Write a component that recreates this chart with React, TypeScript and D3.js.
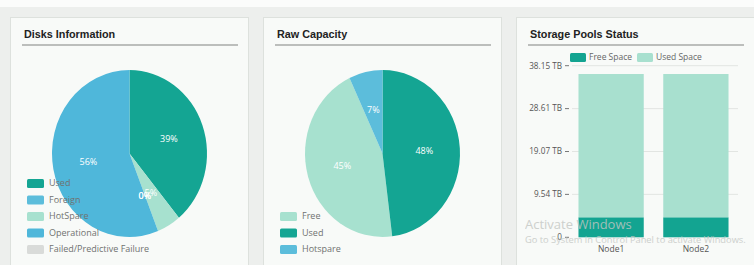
import React from "react";
import * as d3 from "d3";

// disks information
const diskLabels = ["Used", "Foreign", "HotSpare", "Operational", "Failed/Predictive Failure"];
const diskValues = [39, 0, 5, 56, 0];
const diskColors = ["#14a593", "#5cbddb", "#a7e1cf", "#4fb7da", "#d9dbd9"];
const diskPieOrder = ["Used", "HotSpare", "Foreign", "Failed/Predictive Failure", "Operational"];

// raw capacity
const rawLabels = ["Free", "Used", "Hotspare"];
const rawValues = [45, 48, 7];
const rawColors = ["#a7e1cf", "#14a593", "#5cbddb"];
const rawPieOrder = ["Used", "Free", "Hotspare"];

// storage pools
const nodes = ["Node1", "Node2"];
const freeSpace = [4.45, 4.45];
const usedSpace = [31.85, 31.85];
const tickValues = [0, 9.54, 19.07, 28.61, 38.15];
const tickLabels = ["0", "9.54 TB", "19.07 TB", "28.61 TB", "38.15 TB"];
const poolSeries = ["Free Space", "Used Space"];
const poolColors = ["#13a491", "#a8e0cf"];

const W = 754;
const H = 265;
const textFont = "'Open Sans', sans-serif";
const titleFont = "'Liberation Sans', Arial, sans-serif";

const Panel = ({ x, title }: { x: number; title: string }) => (
	<g>
		<rect x={x + 0.5} y={17.5} width={238} height={260} fill="#f8faf8" stroke="#dde1dd" />
		<text x={x + 14} y={38} fontFamily={titleFont} fontWeight="bold" fontSize={10.8} fill="#222">
			{title}
		</text>
		<line x1={x + 12} x2={x + 228} y1={45} y2={45} stroke="#a8aaa8" strokeWidth={1.5} />
	</g>
);

type Slice = { label: string; value: number; color: string };

const Pie = (props: {
	cx: number;
	cy: number;
	r: number;
	data: Slice[];
	order: string[];
}) => {
	const pie = d3
		.pie<Slice>()
		.value(d => d.value)
		.sort((a, b) => props.order.indexOf(a.label) - props.order.indexOf(b.label));
	const arcs = pie(props.data);
	const arc = d3.arc<d3.PieArcDatum<Slice>>().innerRadius(0).outerRadius(props.r);
	const labelArc = d3
		.arc<d3.PieArcDatum<Slice>>()
		.innerRadius(props.r * 0.54)
		.outerRadius(props.r * 0.54);
	return (
		<g transform={`translate(${props.cx},${props.cy}) scale(1,1.077)`}>
			{arcs.map((a, i) => (
				<path key={i} d={arc(a) || ""} fill={a.data.color} />
			))}
			{arcs.map((a, i) => {
				const [lx, ly] = labelArc.centroid(a);
				return (
					<text
						key={"l" + i}
						x={lx}
						y={ly}
						dy="0.35em"
						textAnchor="middle"
						fontFamily={textFont}
						fontSize={9}
						fill="#ffffff"
					>
						{Math.round(a.data.value) + "%"}
					</text>
				);
			})}
		</g>
	);
};

const Legend = ({ x, y, items }: { x: number; y: number; items: Slice[] }) => (
	<g>
		{items.map((d, i) => (
			<g key={i} transform={`translate(${x},${y + i * 16.5})`}>
				<rect x={0} y={-4} width={17} height={9} rx={1.5} fill={d.color} />
				<text x={22} y={0} dy="0.35em" fontFamily={textFont} fontSize={9} fill="#707270">
					{d.label}
				</text>
			</g>
		))}
	</g>
);

const App = () => {
	const disks: Slice[] = diskLabels.map((l, i) => ({ label: l, value: diskValues[i], color: diskColors[i] }));
	const raw: Slice[] = rawLabels.map((l, i) => ({ label: l, value: rawValues[i], color: rawColors[i] }));

	const xScale = d3.scaleBand().domain(nodes).range([570, 737]).paddingInner(0.23).paddingOuter(0.1);
	const yScale = d3.scaleLinear().domain([0, 38.15]).range([237.3, 65.7]);

	return (
		<svg width={W} height={H} style={{ position: "absolute", left: 0, top: 0 }}>
			<rect width={W} height={H} fill="#edefed" />
			<rect width={W} height={7} fill="#fbfcfb" />

			<Panel x={10} title="Disks Information" />
			<Panel x={263} title="Raw Capacity" />
			<Panel x={516} title="Storage Pools Status" />

			<Pie cx={129.5} cy={153.5} r={77.5} data={disks} order={diskPieOrder} />
			<Legend x={27} y={183} items={disks} />

			<Pie cx={382.5} cy={153.5} r={77.5} data={raw} order={rawPieOrder} />
			<Legend x={280} y={216} items={raw} />

			{/* storage pools */}
			<g>
				{tickValues.map((t, i) => (
					<g key={i}>
						{i > 0 && (
							<line x1={572} x2={738} y1={yScale(t)} y2={yScale(t)} stroke="#e2e5e2" />
						)}
						<line x1={565} x2={569} y1={yScale(t)} y2={yScale(t)} stroke="#777" />
						<text
							x={562}
							y={yScale(t)}
							dy="0.35em"
							textAnchor="end"
							fontFamily={textFont}
							fontSize={8.2}
							fill="#555"
						>
							{tickLabels[i]}
						</text>
					</g>
				))}
				{nodes.map((n, i) => (
					<g key={n}>
						<rect
							x={xScale(n)}
							y={yScale(freeSpace[i])}
							width={xScale.bandwidth()}
							height={yScale(0) - yScale(freeSpace[i])}
							fill={poolColors[0]}
						/>
						<rect
							x={xScale(n)}
							y={yScale(freeSpace[i] + usedSpace[i])}
							width={xScale.bandwidth()}
							height={yScale(freeSpace[i]) - yScale(freeSpace[i] + usedSpace[i])}
							fill={poolColors[1]}
						/>
						<text
							x={(xScale(n) || 0) + xScale.bandwidth() / 2}
							y={249}
							dy="0.35em"
							textAnchor="middle"
							fontFamily={textFont}
							fontSize={8.5}
							fill="#555"
						>
							{n}
						</text>
					</g>
				))}
				{poolSeries.map((s, i) => (
					<g key={s} transform={`translate(${570 + i * 67},57.5)`}>
						<rect x={0} y={-4.5} width={16} height={9} rx={1.5} fill={poolColors[i]} />
						<text x={19} y={0} dy="0.35em" fontFamily={textFont} fontSize={8.5} fill="#666">
							{s}
						</text>
					</g>
				))}
			</g>

			{/* watermark from the screenshot */}
			<g fontFamily={textFont} fill="#c3c6c3" opacity={0.8}>
				<text x={525} y={229} fontSize={13}>Activate Windows</text>
				<text x={525} y={243} fontSize={9.3}>Go to System in Control Panel to activate Windows.</text>
			</g>
		</svg>
	);
};

export default App;
